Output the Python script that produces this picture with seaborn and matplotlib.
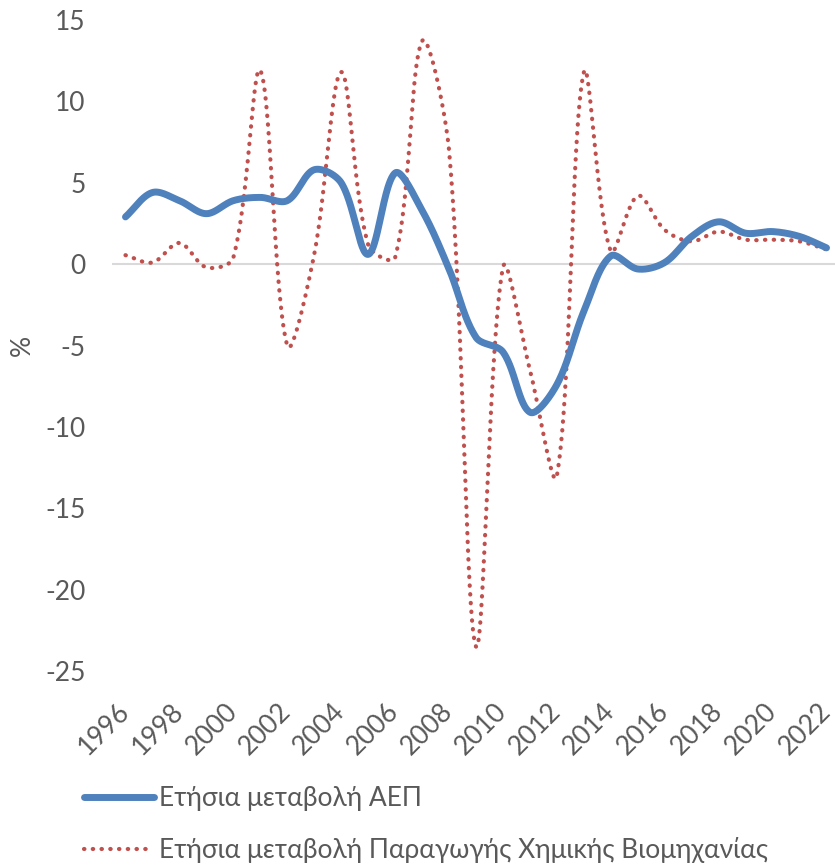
import numpy as np
import pandas as pd
import matplotlib
matplotlib.use("Agg")
import matplotlib.pyplot as plt
import matplotlib.transforms as mtransforms
import seaborn as sns

years = list(range(1996, 2023))
gdp_change = [2.9, 4.4, 3.9, 3.1, 3.9, 4.1, 3.9, 5.8, 5.0, 0.6, 5.6, 3.3, -0.3,
              -4.5, -5.4, -9.1, -7.4, -2.9, 0.5, -0.3, 0.1, 1.7, 2.6, 1.9, 2.0,
              1.7, 1.0]
chem_change = [0.55, 0.1, 1.3, -0.2, 0.4, 11.9, -5.0, 0.6, 11.8, 1.2, 0.4, 13.7,
               7.0, -23.5, -0.2, -6.5, -13.0, 11.8, 0.8, 4.2, 2.1, 1.4, 2.0, 1.5,
               1.5, 1.4, 0.9]

label_gdp = "Ετήσια μεταβολή ΑΕΠ"
label_chem = "Ετήσια μεταβολή Παραγωγής Χημικής Βιομηχανίας"
y_ticks = [15, 10, 5, 0, -5, -10, -15, -20, -25]
x_ticks = list(range(1996, 2023, 2))

W, H = 835, 868
AX_LEFT, AX_RIGHT, AX_TOP, AX_BOTTOM = 112, 840, 20, 671
X_MIN, X_MAX, Y_MIN, Y_MAX = 1995.5, 2022.5, -25, 15


def smooth(xs, ys, n=48):
    """Bezier smoothing through every point; each control arm follows the
    neighbour-to-neighbour direction, split in proportion to the on-screen
    lengths of the two adjoining segments."""
    sx = (AX_RIGHT - AX_LEFT) / (X_MAX - X_MIN)
    sy = (AX_BOTTOM - AX_TOP) / (Y_MAX - Y_MIN)
    p = np.column_stack([np.asarray(xs, float) * sx, np.asarray(ys, float) * sy])
    m = len(p)
    seg_len = np.hypot(*(p[1:] - p[:-1]).T)
    fwd = np.zeros_like(p)
    back = np.zeros_like(p)
    for i in range(m):
        a = p[max(i - 1, 0)]
        b = p[min(i + 1, m - 1)]
        d = b - a
        l_prev = seg_len[i - 1] if i > 0 else 0.0
        l_next = seg_len[i] if i < m - 1 else 0.0
        tot = l_prev + l_next
        fwd[i] = d * (l_next / tot) / 3.0
        back[i] = d * (l_prev / tot) / 3.0
    t = np.linspace(0, 1, n, endpoint=False)[:, None]
    out = []
    for i in range(m - 1):
        p0, p3 = p[i], p[i + 1]
        c1 = p0 + fwd[i]
        c2 = p3 - back[i + 1]
        curve = ((1 - t) ** 3) * p0 + 3 * ((1 - t) ** 2) * t * c1 \
            + 3 * (1 - t) * t ** 2 * c2 + t ** 3 * p3
        out.append(curve)
    out.append(p[-1][None, :])
    out = np.vstack(out)
    return out[:, 0] / sx, out[:, 1] / sy


gx, gy = smooth(years, gdp_change)
cx, cy = smooth(years, chem_change)
df_gdp = pd.DataFrame({"year": gx, "value": gy})
df_chem = pd.DataFrame({"year": cx, "value": cy})

sns.set_theme(style="white")
plt.rcParams["font.family"] = ["Lato", "DejaVu Sans"]

text_color = "#595959"
fs = 19
fig = plt.figure(figsize=(W / 100, H / 100), dpi=100)
ax = fig.add_axes([AX_LEFT / W, 1 - AX_BOTTOM / H,
                   (AX_RIGHT - AX_LEFT) / W, (AX_BOTTOM - AX_TOP) / H])

ax.axhline(0, color="#d9d9d9", lw=1.5, zorder=1)
sns.lineplot(data=df_chem, x="year", y="value", ax=ax, color="#C0504D",
             lw=3.0, sort=False, label=label_chem, zorder=3)
ax.lines[-1].set_linestyle((0, (0.1, 2.0)))
ax.lines[-1].set_dash_capstyle("round")
sns.lineplot(data=df_gdp, x="year", y="value", ax=ax, color="#4F81BD",
             lw=5.0, sort=False, label=label_gdp, zorder=4)
ax.lines[-1].set_solid_capstyle("round")

ax.set_xlim(X_MIN, X_MAX)
ax.set_ylim(Y_MIN, Y_MAX)
ax.set_yticks(y_ticks)
ax.set_yticklabels([str(v) for v in y_ticks])
ax.set_xticks(x_ticks)
ax.set_xticklabels([str(v) for v in x_ticks], rotation=45, ha="right",
                   rotation_mode="anchor")
ax.tick_params(axis="both", length=0, labelsize=fs, labelcolor=text_color)
ax.tick_params(axis="y", pad=19)
ax.tick_params(axis="x", pad=20)
shift = mtransforms.ScaledTranslation(-9 / 100, 0, fig.dpi_scale_trans)
for lbl in ax.get_xticklabels():
    lbl.set_transform(lbl.get_transform() + shift)
for s in ax.spines.values():
    s.set_visible(False)
ax.set_xlabel("")
ax.set_ylabel("%", fontsize=fs, color=text_color, va="center")
ax.yaxis.set_label_coords((22 - AX_LEFT) / (AX_RIGHT - AX_LEFT), 0.5)

handles, labels = ax.get_legend_handles_labels()
order = [labels.index(label_gdp), labels.index(label_chem)]
leg = ax.legend([handles[i] for i in order], [labels[i] for i in order],
                loc="upper left", bbox_to_anchor=(84 / W, 1 - 786 / H),
                bbox_transform=fig.transFigure, frameon=False, fontsize=fs,
                handlelength=2.65, handletextpad=0.2, labelspacing=1.0,
                borderaxespad=0, borderpad=0)
for t in leg.get_texts():
    t.set_color(text_color)

fig.savefig("out.png", dpi=100)
